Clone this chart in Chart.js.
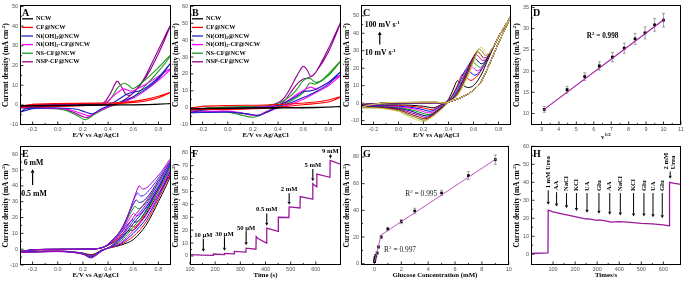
<!DOCTYPE html>
<html>
<head>
<meta charset="utf-8">
<script src="https://cdn.jsdelivr.net/npm/chart.js@4.4.0/dist/chart.umd.min.js"></script>
<style>
  body { margin: 0; background: #fff; }
  #wrap { position: relative; width: 685px; height: 283px; overflow: hidden; background: #fff; }
  #wrap canvas { position: absolute; }
</style>
</head>
<body>
<div id="wrap"></div>
<script>
// ---------- data ----------

// A / B : CVs of the six electrodes ([E (V), j (mA cm-2)], forward then reverse)
const elecLabels = ['NCW', 'CF@NCW', 'Ni(OH)2@NCW', 'Ni(OH)2-CF@NCW', 'NS-CF@NCW', 'NSP-CF@NCW'];
const elecColors = ['#000000', '#ff0000', '#2222c0', '#ff00ff', '#1e9a1e', '#8e008e'];

const aNCW = [[-0.3,-0.5],[0,-0.1],[0.4,0.1],[0.7,0.2],[0.9,0.7],[0.7,0.1],[0.4,-0.1],[0,-0.4],[-0.3,-0.6]];
const aCF = [[-0.3,-0.6],[-0.2,0.3],[0,0.7],[0.3,0.9],[0.5,1.2],[0.6,1.8],[0.7,2.8],[0.8,4.4],[0.9,6.5],[0.8,3.6],[0.7,2],[0.6,1.2],[0.4,0.2],[0.2,-0.4],[0,-0.8],[-0.3,-1]];
const aNiOH = [[-0.3,-3.8],[-0.25,-1.8],[-0.1,-0.7],[0.1,-0.3],[0.3,0],[0.4,0.5],[0.45,1.5],[0.5,3.5],[0.55,5.5],[0.6,6.5],[0.65,7.2],[0.7,8.8],[0.8,14],[0.9,21.5],[0.8,13.2],[0.7,8],[0.6,4.2],[0.5,1.5],[0.4,-0.5],[0.34,-2.2],[0.28,-4.5],[0.22,-3.6],[0.15,-2.2],[0,-1.6],[-0.2,-1.9],[-0.3,-3.8]];
const aNiOHCF = [[-0.3,-1.2],[-0.2,-0.2],[0,0.2],[0.2,0.3],[0.35,0.6],[0.4,2],[0.45,5],[0.5,7.5],[0.53,8],[0.57,7.2],[0.6,7.2],[0.7,10.5],[0.8,14.5],[0.9,18.5],[0.8,12.5],[0.7,7.5],[0.6,3.5],[0.5,1],[0.4,-1],[0.3,-4],[0.25,-5.6],[0.2,-4.6],[0.1,-2.6],[0,-1.8],[-0.3,-1.4]];
const aNSCF = [[-0.3,-1.4],[-0.2,-0.2],[0,0.3],[0.2,0.5],[0.38,0.8],[0.43,4],[0.48,9],[0.53,11],[0.57,9.6],[0.6,8.2],[0.7,13],[0.8,19],[0.9,25.5],[0.8,17],[0.7,10],[0.6,4],[0.5,1],[0.4,-1.2],[0.3,-4.5],[0.22,-7.5],[0.15,-5.2],[0.05,-2.6],[-0.1,-1.8],[-0.3,-1.6]];
const aNSPCF = [[-0.3,-1.1],[-0.2,0],[0,0.3],[0.2,0.5],[0.36,1],[0.42,6],[0.47,12],[0.5,10],[0.54,5.5],[0.58,5],[0.65,10],[0.7,15],[0.8,28],[0.9,41],[0.8,26],[0.7,14],[0.6,6],[0.5,1.5],[0.4,-1],[0.3,-4],[0.23,-6.5],[0.15,-4.5],[0.05,-2],[-0.1,-1.4],[-0.3,-1.2]];

const bNCW = [[-0.3,-0.6],[0,-0.2],[0.4,0.1],[0.7,0.3],[0.9,0.7],[0.7,0.1],[0.4,-0.2],[0,-0.4],[-0.3,-0.7]];
const bCF = [[-0.3,-0.3],[-0.2,0.8],[0,1.3],[0.3,1.6],[0.5,2.2],[0.7,3.4],[0.8,4.6],[0.9,6.5],[0.8,3.4],[0.6,1.8],[0.4,0.4],[0.2,-0.6],[0,-1],[-0.3,-1.1]];
const bNiOH = [[-0.3,-3],[-0.2,-1.5],[0,-0.6],[0.2,0],[0.35,0.6],[0.45,3],[0.55,7],[0.6,9.5],[0.65,10],[0.7,10.8],[0.8,15],[0.9,21.5],[0.8,14],[0.7,9.5],[0.6,6],[0.5,3],[0.4,0.5],[0.3,-3],[0.25,-4.5],[0.15,-3.6],[0,-2.6],[-0.3,-3]];
const bNiOHCF = [[-0.3,-2.5],[-0.2,-1],[0,-0.3],[0.3,0.5],[0.45,3],[0.55,8],[0.62,11],[0.66,12.2],[0.7,11.2],[0.8,15],[0.9,19.5],[0.8,13],[0.7,9],[0.6,5],[0.5,2],[0.4,0],[0.3,-3],[0.22,-4.6],[0.1,-3],[0,-2],[-0.3,-2.6]];
const bNSCF = [[-0.3,-1.8],[-0.2,-0.5],[0,0.4],[0.3,1.2],[0.4,2.5],[0.5,7],[0.55,11],[0.6,16],[0.65,17.5],[0.7,15],[0.75,16.5],[0.8,20],[0.9,28],[0.8,19],[0.7,14],[0.65,14.5],[0.6,9],[0.5,4],[0.4,0.5],[0.3,-3],[0.2,-5.6],[0.1,-4.2],[0,-2.6],[-0.3,-2]];
const bNSPCF = [[-0.3,-2.4],[-0.2,-0.6],[0,0.2],[0.3,1],[0.4,3],[0.45,6],[0.5,12],[0.55,19],[0.6,24.5],[0.63,22.5],[0.66,18.5],[0.7,21],[0.8,35],[0.9,51],[0.8,33],[0.7,21],[0.65,18],[0.6,17],[0.55,14],[0.5,9],[0.45,4],[0.4,1],[0.3,-2.5],[0.24,-4.6],[0.15,-3.6],[0,-2.2],[-0.3,-2.6]];

// C : scan rates 10 ... 100 mV/s (pieces of each loop)
const cColors = ['#000000', '#ff0000', '#0000ff', '#ff00ff', '#00a000', '#00008b', '#a000a0', '#8b0000', '#808000', '#d9d27a'];
const cFwdLow = [
  [[-0.3,-1.0],[-0.25,-0.4],[-0.1,-0.1],[0.1,0.0],[0.3,0.1]],
  [[-0.3,-1.2],[-0.25,-0.5],[-0.1,-0.1],[0.1,0.1],[0.3,0.2]],
  [[-0.3,-1.4],[-0.25,-0.6],[-0.1,0.0],[0.1,0.15],[0.3,0.25]],
  [[-0.3,-1.6],[-0.25,-0.7],[-0.1,0.0],[0.1,0.2],[0.3,0.3]],
  [[-0.3,-1.8],[-0.25,-0.8],[-0.1,0.05],[0.1,0.25],[0.3,0.35]],
  [[-0.3,-2.0],[-0.25,-0.9],[-0.1,0.1],[0.1,0.3],[0.3,0.4]],
  [[-0.3,-2.2],[-0.25,-1.0],[-0.1,0.1],[0.1,0.35],[0.3,0.45]],
  [[-0.3,-2.4],[-0.25,-1.1],[-0.1,0.15],[0.1,0.4],[0.3,0.5]],
  [[-0.3,-2.6],[-0.25,-1.2],[-0.1,0.15],[0.1,0.45],[0.3,0.55]],
  [[-0.3,-2.8],[-0.25,-1.3],[-0.1,0.2],[0.1,0.5],[0.3,0.6]]
];
const cFwdPeak = [
  [[0.38,0.6],[0.42,5],[0.45,10],[0.47,12.8],[0.5,11.2],[0.55,9],[0.6,10],[0.66,16],[0.71,24]],
  [[0.38,0.5],[0.43,4.5],[0.47,10],[0.51,16.5],[0.54,15],[0.58,13],[0.63,15.5],[0.68,21],[0.72,26.5]],
  [[0.38,0.5],[0.43,4],[0.48,10.5],[0.54,19.5],[0.57,18],[0.61,16],[0.65,18],[0.7,24],[0.73,28]],
  [[0.38,0.4],[0.44,4],[0.5,12],[0.56,22],[0.59,20.8],[0.63,18.5],[0.67,20.5],[0.71,25.5],[0.73,28.5]],
  [[0.38,0.4],[0.44,3.8],[0.51,13],[0.58,24],[0.61,22.8],[0.65,20.5],[0.68,22],[0.72,27]],
  [[0.38,0.3],[0.45,4],[0.52,13.5],[0.595,26],[0.625,24.8],[0.66,22.5],[0.69,23.5],[0.73,28.5]],
  [[0.38,0.3],[0.45,3.8],[0.53,14.5],[0.61,28],[0.64,26.8],[0.67,24.5],[0.7,25],[0.73,29]],
  [[0.38,0.3],[0.46,4],[0.54,15],[0.625,29.5],[0.65,28.5],[0.68,26],[0.71,26.5],[0.74,30]],
  [[0.38,0.2],[0.46,3.8],[0.55,15.5],[0.64,31],[0.665,30],[0.69,27.5],[0.72,28],[0.745,31]],
  [[0.38,0.2],[0.47,4],[0.56,16],[0.655,32],[0.68,31],[0.7,28.5],[0.725,28.5],[0.75,31.5]]
];
const cFwdHigh = [[0.77,33.5],[0.8,38],[0.85,44],[0.9,50]];
const cRevHigh = [[0.85,42],[0.8,34.5],[0.75,26],[0.7,18],[0.65,11],[0.6,7.5],[0.55,5],[0.5,3.2],[0.45,1.8],[0.4,0.6]];
const cRevLow = [
  [[0.35,-0.6],[0.28,-2.6],[0.2,-1.8],[0.1,-1.2],[0,-1.0],[-0.15,-1.0],[-0.3,-1.0]],
  [[0.35,-0.9],[0.27,-3.6],[0.19,-2.6],[0.1,-1.8],[0,-1.4],[-0.15,-1.3],[-0.3,-1.2]],
  [[0.35,-1.2],[0.26,-4.6],[0.18,-3.4],[0.1,-2.4],[0,-1.8],[-0.15,-1.5],[-0.3,-1.4]],
  [[0.35,-1.5],[0.255,-5.6],[0.17,-4.2],[0.1,-3.0],[0,-2.2],[-0.15,-1.8],[-0.3,-1.6]],
  [[0.35,-1.8],[0.25,-6.5],[0.16,-5.0],[0.1,-3.8],[0,-2.6],[-0.15,-2.0],[-0.3,-1.8]],
  [[0.35,-2.1],[0.24,-7.3],[0.15,-5.8],[0.1,-4.5],[0,-3.0],[-0.15,-2.2],[-0.3,-2.0]],
  [[0.35,-2.4],[0.23,-8.1],[0.15,-6.6],[0.08,-5.0],[0,-3.4],[-0.15,-2.4],[-0.3,-2.2]],
  [[0.35,-2.7],[0.22,-8.9],[0.14,-7.3],[0.07,-5.6],[0,-3.8],[-0.15,-2.6],[-0.3,-2.4]],
  [[0.35,-3.0],[0.215,-9.7],[0.13,-8.0],[0.06,-6.2],[0,-4.3],[-0.15,-2.8],[-0.3,-2.6]],
  [[0.35,-3.3],[0.21,-10.5],[0.12,-8.8],[0.05,-6.8],[0,-4.8],[-0.15,-3.0],[-0.3,-2.8]]
];

// D : peak current vs square root of scan rate
const dSqrtRate = [3.16, 4.47, 5.48, 6.32, 7.07, 7.75, 8.37, 8.94, 9.49, 10.0];
const dPeak = [11.0, 15.6, 18.7, 21.2, 23.3, 25.4, 27.6, 29.0, 30.9, 32.0];
const dErr = [0.7, 0.8, 0.9, 1.0, 1.1, 1.2, 1.3, 1.4, 1.5, 1.6];
const dFitX = [3.1, 10.05];
const dFitY = [10.8, 32.2];

// E : glucose 0.5 ... 6 mM
const eColors = ['#000000', '#ff0000', '#0000ff', '#ff00ff', '#00a000', '#1a1a9a', '#3333ff', '#b000c0'];
const eFwd = [
  [[-0.3,-1.4],[-0.2,-0.4],[0,-0.1],[0.2,0],[0.33,0.5],[0.4,2.5],[0.48,6],[0.57,12],[0.6,12],[0.64,15],[0.7,22],[0.8,35],[0.9,47]],
  [[-0.3,-1.5],[-0.2,-0.4],[0,-0.1],[0.2,0],[0.33,0.5],[0.4,2.6],[0.48,7],[0.58,15],[0.61,14],[0.65,17],[0.7,23.5],[0.8,37],[0.9,49]],
  [[-0.3,-1.6],[-0.2,-0.4],[0,-0.1],[0.2,0],[0.33,0.5],[0.4,2.7],[0.48,8],[0.59,18.5],[0.62,17],[0.66,19.5],[0.72,27],[0.8,38.5],[0.9,50.5]],
  [[-0.3,-1.7],[-0.2,-0.4],[0,-0.1],[0.2,0],[0.33,0.5],[0.4,2.8],[0.49,9],[0.6,22.5],[0.63,21],[0.67,23.5],[0.73,30],[0.8,40],[0.9,52]],
  [[-0.3,-1.8],[-0.2,-0.4],[0,-0.1],[0.2,0],[0.33,0.5],[0.4,2.9],[0.5,11],[0.61,27],[0.64,25.5],[0.68,27.5],[0.74,33.5],[0.8,42],[0.9,53.5]],
  [[-0.3,-1.9],[-0.2,-0.4],[0,-0.1],[0.2,0],[0.33,0.5],[0.4,3],[0.5,12],[0.62,31],[0.65,29.5],[0.69,31],[0.75,37],[0.8,43.5],[0.9,55]],
  [[-0.3,-2.0],[-0.2,-0.4],[0,-0.1],[0.2,0],[0.33,0.5],[0.4,3.1],[0.51,13],[0.63,35.5],[0.66,33.5],[0.7,35],[0.76,40.5],[0.8,45],[0.9,56]],
  [[-0.3,-2.1],[-0.2,-0.4],[0,-0.1],[0.2,0],[0.33,0.5],[0.4,3.2],[0.52,14],[0.645,40],[0.675,38],[0.71,39],[0.77,44],[0.82,48.5],[0.9,57.5]]
];
const eRev = [
  [[0.8,30],[0.7,15],[0.6,6],[0.5,2.5],[0.42,1],[0.35,-0.5],[0.3,-2.8],[0.26,-3.5],[0.2,-2.5],[0.1,-1.5],[0,-1.2],[-0.3,-1.4]],
  [[0.8,32],[0.7,17],[0.6,8],[0.5,3],[0.42,1],[0.35,-0.6],[0.3,-3],[0.26,-3.8],[0.2,-2.6],[0.1,-1.6],[0,-1.2],[-0.3,-1.5]],
  [[0.8,33.5],[0.7,19],[0.6,10],[0.5,3.5],[0.42,1.2],[0.35,-0.7],[0.3,-3.2],[0.26,-4.1],[0.2,-2.7],[0.1,-1.6],[0,-1.3],[-0.3,-1.6]],
  [[0.8,35],[0.7,21],[0.6,12],[0.5,4],[0.42,1.3],[0.35,-0.8],[0.3,-3.4],[0.26,-4.4],[0.2,-2.8],[0.1,-1.7],[0,-1.3],[-0.3,-1.7]],
  [[0.8,37],[0.7,23.5],[0.6,14],[0.5,5],[0.42,1.4],[0.35,-0.9],[0.3,-3.6],[0.26,-4.7],[0.2,-2.9],[0.1,-1.7],[0,-1.4],[-0.3,-1.8]],
  [[0.8,38.5],[0.7,26],[0.6,16],[0.5,6],[0.42,1.5],[0.35,-1],[0.3,-3.8],[0.26,-5],[0.2,-3],[0.1,-1.8],[0,-1.4],[-0.3,-1.9]],
  [[0.8,40],[0.7,28],[0.6,18],[0.5,7],[0.42,1.6],[0.35,-1.1],[0.3,-4],[0.26,-5.3],[0.2,-3.1],[0.1,-1.8],[0,-1.5],[-0.3,-2.0]],
  [[0.8,42],[0.7,30],[0.6,20],[0.5,8],[0.42,1.7],[0.35,-1.2],[0.3,-4.2],[0.26,-5.6],[0.2,-3.2],[0.1,-1.9],[0,-1.5],[-0.3,-2.1]]
];

// F : amperometric staircase
const fTime = [100,150,192,193,236,237,275,276,322,323,362,363,370,404,405,450,451,493,494,537,538,587,588,603,604,656,657,700];
const fCurrent = [1.1,0.7,0.5,1.5,1.0,2.0,1.7,3.5,3.0,6.0,5.2,15.0,13.5,10.0,21.5,19.0,30.0,29.8,38.0,37.2,46.0,44.0,56.0,53.5,63.5,61.0,74.0,71.0];
const fArrowTime = [153, 237, 323, 405, 494, 588, 658];
const fArrowTop = [13.3, 14.6, 19.1, 33, 48.6, 67.4, 78.7];
const fArrowTip = [3.3, 4, 8.3, 23.4, 39.7, 57.9, 75.5];
const fLabelY = [15.8, 17.1, 21.6, 36, 51.6, 70.4, 81.3];
const fLabels = ['10 \u00b5M', '30 \u00b5M', '50 \u00b5M', '0.5 mM', '2 mM', '5 mM', '9 mM'];

// G : calibration
const gConc = [0.01, 0.03, 0.05, 0.1, 0.2, 0.3, 0.5, 1, 2, 3, 5, 7, 9];
const gCurrent = [1.5, 3, 4.5, 6, 8, 12.5, 20, 26, 31.5, 39.5, 53, 66, 78];
const gErr = [0.5, 0.6, 0.6, 0.7, 0.8, 1, 1.2, 1.3, 1.5, 2, 2, 3, 3.5];
const gFitLowX = [0, 0.5], gFitLowY = [1.2, 21.5];
const gFitHighX = [0.5, 9.05], gFitHighY = [21.5, 78.5];

// H : interference test
const hTime = [0,77,78,100,150,200,250,256,300,310,350,360,400,450,500,550,600,627,628,650,680];
const hCurrent = [0.4,0.7,24.5,23.5,22.2,20.9,19.5,19.8,18.8,19.1,18.2,17.8,18.1,17.7,17.2,16.9,16.3,15.8,40,39.4,38.8];
const hEventTime = [78,116,161,206,254,308,357,405,465,512,553,595,631];
const hEventLabel = ['1 mM Urea','AA','NaCl','KCl','UA','Glu','AA','NaCl','KCl','Glu','UA','Glu','2 mM|Urea'];
const hArrowTop = [35.5,34.5,34,34,34,34,34,34,34,34,34,34,46];
const hArrowTip = [27.5,26.5,25.5,24,23,22.5,22,21.5,21,21,20.5,20,42];

// tick values
const cvTicksX = [-0.2, 0, 0.2, 0.4, 0.6, 0.8];
const ticksA = [-10, 0, 10, 20, 30, 40, 50];
const ticksB = [-10, 0, 10, 20, 30, 40, 50, 60];
const ticksC = [-10, 0, 10, 20, 30, 40, 50];
const ticksDX = [3, 4, 5, 6, 7, 8, 9, 10, 11];
const ticksDY = [10, 15, 20, 25, 30, 35];
const ticksE = [-10, 0, 10, 20, 30, 40, 50, 60];
const ticksFX = [100, 200, 300, 400, 500, 600];
const ticksFY = [0, 10, 20, 30, 40, 50, 60, 70, 80];
const ticksGX = [0, 2, 4, 6, 8, 10];
const ticksGY = [0, 20, 40, 60, 80];
const ticksHX = [100, 200, 300, 400, 500, 600];
const ticksHY = [0, 10, 20, 30, 40, 50, 60];

// ---------- drawing ----------
const SERIF = "'Liberation Serif','Times New Roman',serif";
const SANS = "'Liberation Sans',Arial,sans-serif";
const COL_X = [0, 171, 342, 513], COL_W = [171, 171, 171, 172];
const ROW_Y = [0, 141], ROW_H = [141, 142];
const wrap = document.getElementById('wrap');

const pts = pairs => pairs.map(p => ({ x: p[0], y: p[1] }));
const zip = (xs, ys) => xs.map((x, i) => ({ x, y: ys[i] }));

function richText(ctx, segs, x, y, size, weight, align) {
  const fontOf = k => `${weight} ${k === 'n' ? size : Math.round(size * 0.68)}px ${SERIF}`;
  const ws = segs.map(([t, k]) => { ctx.font = fontOf(k); return ctx.measureText(t).width; });
  const total = ws.reduce((a, b) => a + b, 0);
  let cx = align === 'center' ? x - total / 2 : align === 'right' ? x - total : x;
  ctx.textAlign = 'left';
  ctx.textBaseline = 'middle';
  segs.forEach(([t, k], i) => {
    ctx.font = fontOf(k);
    const dy = k === 'sup' ? -size * 0.32 : k === 'sub' ? size * 0.28 : 0;
    ctx.fillText(t, cx, y + dy);
    cx += ws[i];
  });
}

function arrow(ctx, x, yTail, yTip, head) {
  const dir = yTip > yTail ? 1 : -1;
  ctx.beginPath();
  ctx.moveTo(x, yTail);
  ctx.lineTo(x, yTip - dir * head);
  ctx.stroke();
  ctx.beginPath();
  ctx.moveTo(x, yTip);
  ctx.lineTo(x - head * 0.55, yTip - dir * head);
  ctx.lineTo(x + head * 0.55, yTip - dir * head);
  ctx.closePath();
  ctx.fill();
}

function errorBars(chart, xs, ys, errs) {
  const ctx = chart.ctx, sx = chart.scales.x, sy = chart.scales.y;
  ctx.save();
  ctx.strokeStyle = '#8a8a8a';
  ctx.lineWidth = 0.8;
  xs.forEach((v, i) => {
    const px = sx.getPixelForValue(v);
    const y1 = sy.getPixelForValue(ys[i] + errs[i]);
    const y2 = sy.getPixelForValue(ys[i] - errs[i]);
    ctx.beginPath();
    ctx.moveTo(px, y1); ctx.lineTo(px, y2);
    ctx.moveTo(px - 1.5, y1); ctx.lineTo(px + 1.5, y1);
    ctx.moveTo(px - 1.5, y2); ctx.lineTo(px + 1.5, y2);
    ctx.stroke();
  });
  ctx.restore();
}

const densityTitle = [['Current density (mA cm', 'n'], ['-2', 'sup'], [')', 'n']];
const cvTitle = [['E/V vs Ag/AgCl', 'n']];

function legendSegs(label) {
  const i = label.indexOf('(OH)2');
  if (i < 0) return [[label, 'n']];
  return [[label.slice(0, i + 4), 'n'], ['2', 'sub'], [label.slice(i + 5), 'n']];
}

function drawLegend(chart) {
  const ctx = chart.ctx, a = chart.chartArea;
  ctx.save();
  elecLabels.forEach((lab, i) => {
    const y = a.top + 13.5 + i * 8.6;
    ctx.strokeStyle = elecColors[i];
    ctx.lineWidth = 1.3;
    ctx.beginPath(); ctx.moveTo(a.left + 2, y); ctx.lineTo(a.left + 13, y); ctx.stroke();
    ctx.fillStyle = '#000';
    richText(ctx, legendSegs(lab), a.left + 16, y, 6.3, 'bold', 'left');
  });
  ctx.restore();
}

function deco(p) {
  return {
    id: 'deco' + p.letter,
    beforeDatasetsDraw(chart) { if (p.under) p.under(chart); },
    afterDatasetsDraw(chart) {
      const ctx = chart.ctx, a = chart.chartArea, sx = chart.scales.x, sy = chart.scales.y;
      ctx.save();
      ctx.strokeStyle = '#000';
      ctx.lineWidth = 1;
      const L = Math.round(a.left) + 0.5, T = Math.round(a.top) + 0.5;
      const R = Math.round(a.right) - 0.5, B = Math.round(a.bottom) - 0.5;
      ctx.strokeRect(L, T, R - L, B - T);
      // inward ticks, major and minor
      ctx.lineWidth = 0.8;
      ctx.beginPath();
      p.xTicks.forEach((v, i) => {
        const px = sx.getPixelForValue(v);
        ctx.moveTo(px, B); ctx.lineTo(px, B - 3);
        if (i > 0) {
          const mx = sx.getPixelForValue((v + p.xTicks[i - 1]) / 2);
          ctx.moveTo(mx, B); ctx.lineTo(mx, B - 1.6);
        }
      });
      p.yTicks.forEach((v, i) => {
        const py = sy.getPixelForValue(v);
        ctx.moveTo(L, py); ctx.lineTo(L + 3, py);
        if (i > 0) {
          const my = sy.getPixelForValue((v + p.yTicks[i - 1]) / 2);
          ctx.moveTo(L, my); ctx.lineTo(L + 1.6, my);
        }
      });
      ctx.stroke();
      ctx.fillStyle = '#000';
      // panel letter
      ctx.font = `bold 10px ${SERIF}`;
      ctx.textAlign = 'left';
      ctx.textBaseline = 'middle';
      ctx.fillText(p.letter, a.left + 2, a.top + 8);
      // axis titles
      richText(ctx, p.xTitle, (a.left + a.right) / 2, a.bottom + (p.xTitleOff || 10.2), 6.8, 'bold', 'center');
      ctx.save();
      ctx.translate(a.left - (p.yTitleOff || 14), (a.top + a.bottom) / 2);
      ctx.rotate(-Math.PI / 2);
      richText(ctx, p.yTitle || densityTitle, 0, 0, 7.4, 'bold', 'center');
      ctx.restore();
      if (p.over) p.over(chart);
      ctx.restore();
    }
  };
}

function panel(p) {
  const W = COL_W[p.col], H = ROW_H[p.row];
  const cv = document.createElement('canvas');
  cv.width = W; cv.height = H;
  cv.style.left = COL_X[p.col] + 'px';
  cv.style.top = ROW_Y[p.row] + 'px';
  cv.style.width = W + 'px';
  cv.style.height = H + 'px';
  wrap.appendChild(cv);
  const axis = (min, max, ticks, fmt, fit, pad) => ({
    type: 'linear', min, max,
    afterBuildTicks: s => { s.ticks = ticks.map(v => ({ value: v })); },
    afterFit: fit,
    ticks: { autoSkip: false, maxRotation: 0, padding: pad, color: '#555', font: { family: SANS, size: 5.5 }, callback: fmt },
    grid: { display: false, drawTicks: false },
    border: { display: false }
  });
  new Chart(cv, {
    type: 'scatter',
    data: { datasets: p.datasets },
    options: {
      responsive: false, animation: false, events: [],
      layout: { padding: { top: 3, right: p.padR, left: 0, bottom: 0 } },
      plugins: { legend: { display: false }, tooltip: { enabled: false } },
      scales: {
        x: axis(p.xMin, p.xMax, p.xTicks, p.xFmt || (v => v), s => { s.height = H - 3 - p.plotH; }, 1.2),
        y: axis(p.yMin, p.yMax, p.yTicks, p.yFmt || (v => v), s => { s.width = p.yW; }, 2)
      }
    },
    plugins: [deco(p)]
  });
}

function cvLine(pairs, color, width) {
  return { data: pts(pairs), showLine: true, borderColor: color, borderWidth: width || 1.1, pointRadius: 0, tension: 0.3, fill: false };
}
const fmt1 = v => v.toFixed(1);

// A
panel({
  letter: 'A', col: 0, row: 0, yW: 20, padR: 0, plotH: 122,
  xMin: -0.3, xMax: 0.9, yMin: -10.2, yMax: 50.6, xTicks: cvTicksX, yTicks: ticksA, xFmt: fmt1,
  xTitle: cvTitle,
  datasets: [aNCW, aCF, aNiOH, aNiOHCF, aNSCF, aNSPCF].map((c, i) => cvLine(c, elecColors[i])),
  over: drawLegend
});

// B
panel({
  letter: 'B', col: 1, row: 0, yW: 19, padR: 1, plotH: 122,
  xMin: -0.3, xMax: 0.9, yMin: -10.2, yMax: 60.6, xTicks: cvTicksX, yTicks: ticksB, xFmt: fmt1,
  xTitle: cvTitle,
  datasets: [bNCW, bCF, bNiOH, bNiOHCF, bNSCF, bNSPCF].map((c, i) => cvLine(c, elecColors[i])),
  over: drawLegend
});

// C
panel({
  letter: 'C', col: 2, row: 0, yW: 19, padR: 2, plotH: 122,
  xMin: -0.3, xMax: 0.9, yMin: -12.5, yMax: 56, xTicks: cvTicksX, yTicks: ticksC, xFmt: fmt1,
  xTitle: cvTitle,
  datasets: cFwdLow.map((low, i) =>
    cvLine(low.concat(cFwdPeak[i], cFwdHigh, cRevHigh, cRevLow[i]), cColors[i], 1.0)).reverse(),
  over(chart) {
    const ctx = chart.ctx, sx = chart.scales.x, sy = chart.scales.y;
    ctx.fillStyle = '#000'; ctx.strokeStyle = '#000'; ctx.lineWidth = 1.2;
    richText(ctx, [['100 mV s', 'n'], ['-1', 'sup']], sx.getPixelForValue(-0.27), sy.getPixelForValue(44.5), 7.8, 'bold', 'left');
    richText(ctx, [['10 mV s', 'n'], ['-1', 'sup']], sx.getPixelForValue(-0.27), sy.getPixelForValue(28.8), 7.8, 'bold', 'left');
    arrow(ctx, sx.getPixelForValue(-0.15), sy.getPixelForValue(33.5), sy.getPixelForValue(41), 3.5);
  }
});

// D
panel({
  letter: 'D', col: 3, row: 0, yW: 18, padR: 4, plotH: 122,
  xMin: 2.4, xMax: 11, yMin: 7.3, yMax: 35.5, xTicks: ticksDX, yTicks: ticksDY,
  xTitle: [['v', 'n'], ['1/2', 'sup']], xTitleOff: 12,
  datasets: [
    { data: zip(dFitX, dFitY), showLine: true, borderColor: '#a020a0', borderWidth: 1.2, pointRadius: 0 },
    { data: zip(dSqrtRate, dPeak), showLine: false, pointStyle: 'rect', pointRadius: 2, backgroundColor: '#000', borderColor: '#000', borderWidth: 0 }
  ],
  under: chart => errorBars(chart, dSqrtRate, dPeak, dErr),
  over(chart) {
    const ctx = chart.ctx;
    ctx.fillStyle = '#000';
    richText(ctx, [['R', 'n'], ['2', 'sup'], [' = 0.998', 'n']],
      chart.scales.x.getPixelForValue(5.6), chart.scales.y.getPixelForValue(28.3), 7.2, 'bold', 'left');
  }
});

// E
panel({
  letter: 'E', col: 0, row: 1, yW: 20, padR: 0, plotH: 121,
  xMin: -0.3, xMax: 0.9, yMin: -10, yMax: 65, xTicks: cvTicksX, yTicks: ticksE, xFmt: fmt1,
  xTitle: cvTitle,
  datasets: eFwd.map((f, i) => cvLine(f.concat(eRev[i]), eColors[i], 1.0)).reverse(),
  over(chart) {
    const ctx = chart.ctx, sx = chart.scales.x, sy = chart.scales.y;
    ctx.fillStyle = '#000'; ctx.strokeStyle = '#000'; ctx.lineWidth = 1.2;
    richText(ctx, [['6 mM', 'n']], sx.getPixelForValue(-0.27), sy.getPixelForValue(54.4), 7.8, 'bold', 'left');
    richText(ctx, [['0.5 mM', 'n']], sx.getPixelForValue(-0.29), sy.getPixelForValue(34.9), 7.8, 'bold', 'left');
    arrow(ctx, sx.getPixelForValue(-0.2), sy.getPixelForValue(40.5), sy.getPixelForValue(50.5), 3.5);
  }
});

// F
panel({
  letter: 'F', col: 1, row: 1, yW: 19, padR: 1, plotH: 121,
  xMin: 100, xMax: 700, yMin: -7, yMax: 85, xTicks: ticksFX, yTicks: ticksFY,
  xTitle: [['Time (s)', 'n']],
  datasets: [{ data: zip(fTime, fCurrent), showLine: true, borderColor: '#9b189b', borderWidth: 1.3, pointRadius: 0, tension: 0 }],
  over(chart) {
    const ctx = chart.ctx, sx = chart.scales.x, sy = chart.scales.y;
    ctx.fillStyle = '#000'; ctx.strokeStyle = '#000'; ctx.lineWidth = 1.1;
    fArrowTime.forEach((t, i) => {
      const px = sx.getPixelForValue(t);
      arrow(ctx, px, sy.getPixelForValue(fArrowTop[i]), sy.getPixelForValue(fArrowTip[i]), 3);
      richText(ctx, [[fLabels[i], 'n']], px, sy.getPixelForValue(fLabelY[i]), 6.6, 'bold', 'center');
    });
  }
});

// G
panel({
  letter: 'G', col: 2, row: 1, yW: 19, padR: 2, plotH: 121,
  xMin: -1, xMax: 10, yMin: -1, yMax: 88, xTicks: ticksGX, yTicks: ticksGY,
  xTitle: [['Glucose Concentration (mM)', 'n']],
  datasets: [
    { data: zip(gFitLowX, gFitLowY), showLine: true, borderColor: '#c154c1', borderWidth: 1, pointRadius: 0 },
    { data: zip(gFitHighX, gFitHighY), showLine: true, borderColor: '#c154c1', borderWidth: 1, pointRadius: 0 },
    { data: zip(gConc, gCurrent), showLine: false, pointStyle: 'rect', pointRadius: 1.9, backgroundColor: '#000', borderColor: '#000', borderWidth: 0 }
  ],
  under: chart => errorBars(chart, gConc, gCurrent, gErr),
  over(chart) {
    const ctx = chart.ctx, sx = chart.scales.x, sy = chart.scales.y;
    ctx.fillStyle = '#222';
    richText(ctx, [['R', 'n'], ['2', 'sup'], [' = 0.995', 'n']], sx.getPixelForValue(2.3), sy.getPixelForValue(52.5), 7.4, 'normal', 'left');
    richText(ctx, [['R', 'n'], ['2', 'sup'], [' = 0.997', 'n']], sx.getPixelForValue(0.72), sy.getPixelForValue(10.3), 7.4, 'normal', 'left');
  }
});

// H
panel({
  letter: 'H', col: 3, row: 1, yW: 18, padR: 4, plotH: 121,
  xMin: 0, xMax: 680, yMin: -6, yMax: 60, xTicks: ticksHX, yTicks: ticksHY,
  xTitle: [['Times/s', 'n']],
  datasets: [{ data: zip(hTime, hCurrent), showLine: true, borderColor: '#9b189b', borderWidth: 1.3, pointRadius: 0, tension: 0 }],
  over(chart) {
    const ctx = chart.ctx, sx = chart.scales.x, sy = chart.scales.y;
    ctx.fillStyle = '#000'; ctx.strokeStyle = '#000'; ctx.lineWidth = 1;
    hEventTime.forEach((t, i) => {
      const px = sx.getPixelForValue(t);
      const top = sy.getPixelForValue(hArrowTop[i]);
      arrow(ctx, px, top, sy.getPixelForValue(hArrowTip[i]), 3);
      const lines = hEventLabel[i].split('|');
      lines.forEach((line, j) => {
        ctx.save();
        ctx.translate(px + (j - (lines.length - 1) / 2) * 7, top - 2);
        ctx.rotate(-Math.PI / 2);
        richText(ctx, [[line, 'n']], 0, 0, 6.6, 'bold', 'left');
        ctx.restore();
      });
    });
  }
});
</script>
</body>
</html>
